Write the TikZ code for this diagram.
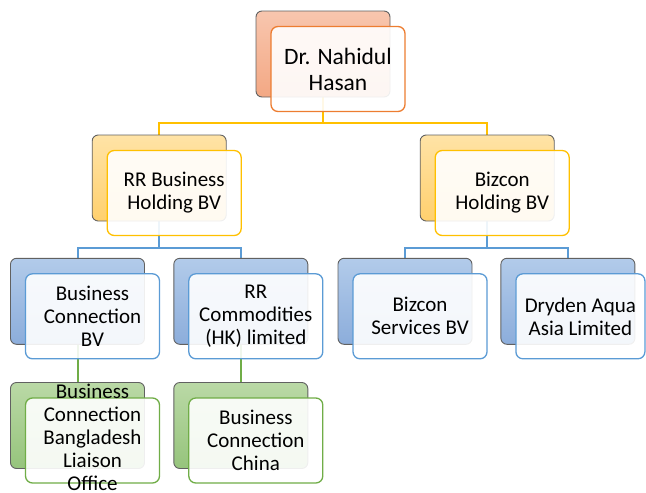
\documentclass[tikz,border=0pt]{standalone}
\usepackage{fontspec}
\setmainfont{Carlito}
\usepackage{xcolor}
\usetikzlibrary{calc,positioning,backgrounds}
\definecolor{orgline}{HTML}{ED7D31}
\definecolor{orgtop}{HTML}{F8C6AE}
\definecolor{orgbot}{HTML}{F3A884}
\definecolor{goldline}{HTML}{FFC000}
\definecolor{goldtop}{HTML}{FFE3A6}
\definecolor{goldbot}{HTML}{FFD06E}
\definecolor{blueline}{HTML}{5B9BD5}
\definecolor{bluetop}{HTML}{B2CBEA}
\definecolor{bluebot}{HTML}{8CADDB}
\definecolor{greenline}{HTML}{70AD47}
\definecolor{greentop}{HTML}{BAD9A6}
\definecolor{greenbot}{HTML}{96C47C}
\tikzset{
  backbox/.style={draw=black!62, line width=0.9pt, rounded corners=6pt,
    minimum width=134pt, minimum height=86pt, inner sep=0pt},
  frontbox/.style={line width=1.3pt, rounded corners=7pt, fill=white,
    fill opacity=0.9, text opacity=1, minimum width=134pt, minimum height=85pt,
    inner sep=0pt, align=center, font=\fontsize{21}{23}\selectfont},
  orgback/.style={backbox, top color=orgtop, bottom color=orgbot},
  orgfront/.style={frontbox, draw=orgline, font=\fontsize{23.5}{26}\selectfont},
  goldback/.style={backbox, top color=goldtop, bottom color=goldbot},
  goldfront/.style={frontbox, draw=goldline},
  blueback/.style={backbox, top color=bluetop, bottom color=bluebot},
  bluefront/.style={frontbox, draw=blueline},
  greenback/.style={backbox, top color=greentop, bottom color=greenbot},
  greenfront/.style={frontbox, draw=greenline},
  link/.style={line width=2pt}
}

\begin{document}
\begin{tikzpicture}[x=1pt, y=-1pt]
  \useasboundingbox (0,0) rectangle (646,493);

  \node[orgback] (nhb) at (323,54) {};
  \node[orgfront] (nhf) at ($(nhb)+(15,15)$) {Dr. Nahidul\\Hasan};

  \node[goldback] (rrb) at (159.2,178) {};
  \node[goldfront] (rrf) at ($(rrb)+(15,15)$) {RR Business\\Holding BV};
  \node[goldback] (bzb) at (487.2,178) {};
  \node[goldfront] (bzf) at ($(bzb)+(15,15)$) {Bizcon\\Holding BV};

  \node[blueback] (bcb) at (77.5,301.3) {};
  \node[bluefront] (bcf) at ($(bcb)+(15,15)$) {Business\\Connection\\BV};
  \node[blueback] (rcb) at (240.8,301.3) {};
  \node[bluefront] (rcf) at ($(rcb)+(15,15)$) {RR\\Commodities\\(HK) limited};
  \node[blueback] (bsb) at (405,301.3) {};
  \node[bluefront] (bsf) at ($(bsb)+(15,15)$) {Bizcon\\Services BV};
  \node[blueback] (dab) at (567.9,301.3) {};
  \node[bluefront, minimum width=129pt] (daf) at ($(dab)+(12.5,15)$) {Dryden Aqua\\Asia Limited};

  \node[greenback] (bbb) at (77.5,425.5) {};
  \node[greenfront] (bbf) at ($(bbb)+(15,15)$)
    {\raisebox{-9.5pt}{\smash{\begin{tabular}{@{}c@{}}Business\\Connection\\Bangladesh\\Liaison\\Office\end{tabular}}}};
  \node[greenback] (bcc) at (240.8,425.5) {};
  \node[greenfront] (bcd) at ($(bcc)+(15,15)$) {Business\\Connection\\China};

  \begin{scope}[on background layer]
    \draw[link, goldline] (nhb.south) -- ++(0,26) coordinate (j1);
    \draw[link, goldline] (rrb.north) |- (j1) -| (bzb.north);
    \draw[link, blueline] (rrb.south) -- ++(0,27) coordinate (j2);
    \draw[link, blueline] (bcb.north) |- (j2) -| (rcb.north);
    \draw[link, blueline] (bzb.south) -- ++(0,27) coordinate (j3);
    \draw[link, blueline] (bsb.north) |- (j3) -| (dab.north);
    \draw[link, greenline] (bcb.south) -- (bbb.north);
    \draw[link, greenline] (rcb.south) -- (bcc.north);
  \end{scope}
\end{tikzpicture}
\end{document}
